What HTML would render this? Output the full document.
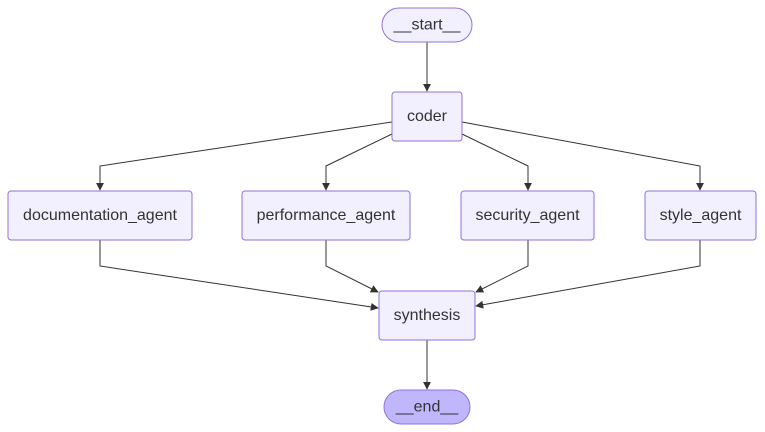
<!DOCTYPE html>
<html><head><meta charset="utf-8"><style>
html,body{margin:0;padding:0;background:#fff;}
svg{display:block;}
text{font-family:"Liberation Sans",Arial,sans-serif;font-size:16px;fill:#333;text-anchor:middle;dominant-baseline:central;}
.n{fill:#f2f0ff;stroke:#9370db;stroke-width:1;}
.e{fill:none;stroke:#333;stroke-width:1;}
</style></head><body>
<svg width="765" height="432" viewBox="0 0 765 432">
<defs><marker id="a" viewBox="0 0 10 10" refX="9" refY="5" markerWidth="8" markerHeight="8" markerUnits="userSpaceOnUse" orient="auto"><path d="M0,0L10,5L0,10z" fill="#333"/></marker></defs>
<g class="e" marker-end="url(#a)">
<path d="M427,42V91" marker-end="url(#a)"/>
<path d="M392,122L100,166V190" marker-end="url(#a)"/>
<path d="M392,134L326,166V190" marker-end="url(#a)"/>
<path d="M462,134L528,166V190" marker-end="url(#a)"/>
<path d="M462,122L700,166V190" marker-end="url(#a)"/>
<path d="M100,240V266L378,308" marker-end="url(#a)"/>
<path d="M326,240V266L378,292" marker-end="url(#a)"/>
<path d="M528,240V266L476,292" marker-end="url(#a)"/>
<path d="M700,240V266L476,306" marker-end="url(#a)"/>
<path d="M427,340V389" marker-end="url(#a)"/>
</g>
<rect class="n" x="382" y="8" width="90" height="34" rx="17"/><text x="427" y="25">__start__</text>
<rect class="n" x="392" y="92" width="70" height="49" rx="3"/><text x="427" y="116.5">coder</text>
<rect class="n" x="8" y="191" width="184" height="49" rx="3"/><text x="100" y="215.5">documentation_agent</text>
<rect class="n" x="242" y="191" width="168" height="49" rx="3"/><text x="326" y="215.5">performance_agent</text>
<rect class="n" x="461" y="191" width="133" height="49" rx="3"/><text x="527.5" y="215.5">security_agent</text>
<rect class="n" x="645" y="191" width="111" height="49" rx="3"/><text x="700.5" y="215.5">style_agent</text>
<rect class="n" x="379" y="291" width="96" height="49" rx="3"/><text x="427" y="315.5">synthesis</text>
<rect x="384" y="390" width="86" height="34" rx="17" fill="#bfb6fc" stroke="#9370db"/><text x="427" y="407">__end__</text>
</svg>
</body></html>
